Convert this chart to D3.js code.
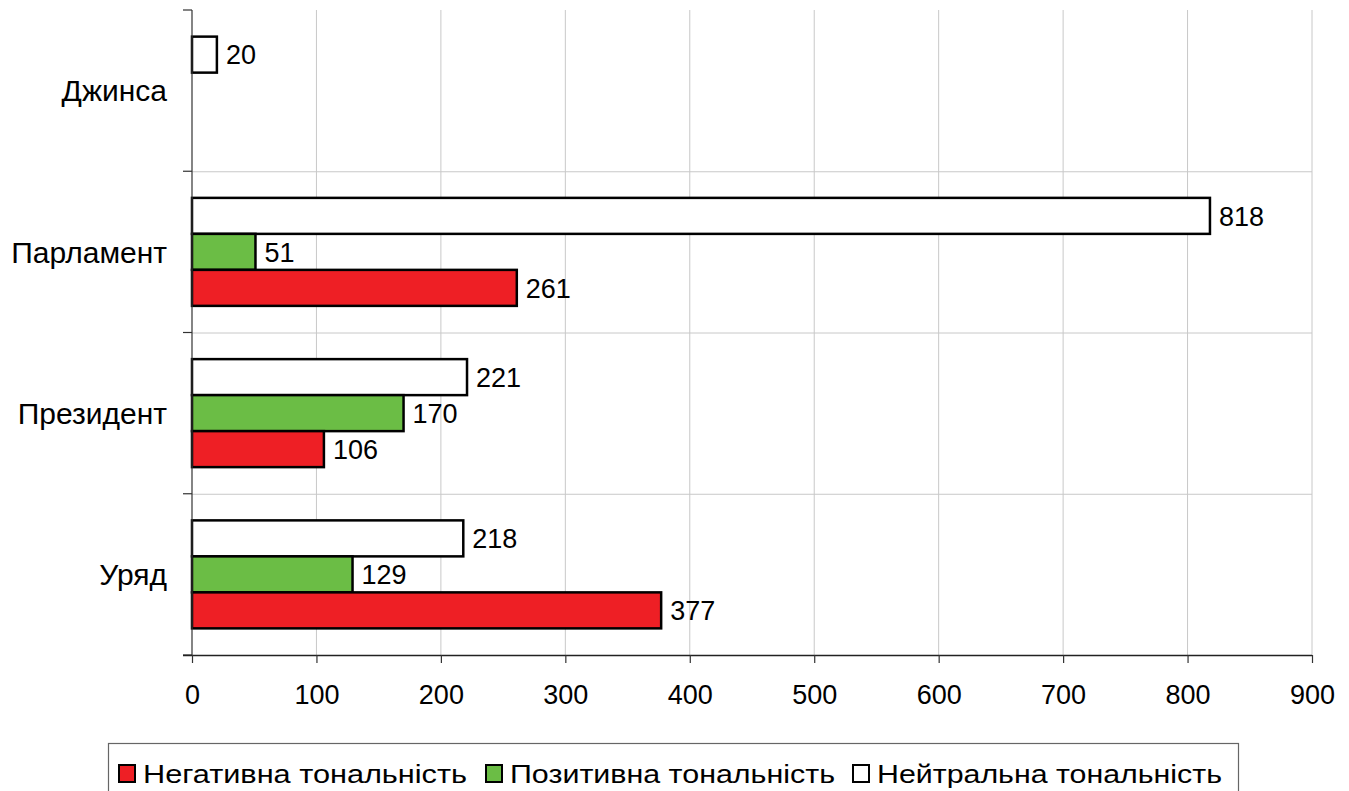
<!DOCTYPE html>
<html>
<head>
<meta charset="utf-8">
<script src="https://cdn.jsdelivr.net/npm/d3@7"></script>
<style>
  html, body { margin: 0; padding: 0; background: #fff; }
  svg { display: block; font-family: "Liberation Sans", Arial, sans-serif; }
</style>
</head>
<body>
<svg id="chart" width="1349" height="791"></svg>
<script>
// Categories (top to bottom) and counts per tone
const categories = ["Джинса", "Парламент", "Президент", "Уряд"];
const negativeValues = [0, 261, 106, 377];
const positiveValues = [0, 51, 170, 129];
const neutralValues = [20, 818, 221, 218];
const xTicks = [0, 100, 200, 300, 400, 500, 600, 700, 800, 900];

const series = [
  { key: "neutral",  name: "Нейтральна тональність", values: neutralValues,  color: "#ffffff" },
  { key: "positive", name: "Позитивна тональність",  values: positiveValues, color: "#6bbd45" },
  { key: "negative", name: "Негативна тональність",  values: negativeValues, color: "#ee1f25" }
];
const legendOrder = ["negative", "positive", "neutral"];

const svg = d3.select("#chart");
const plotLeft = 192, plotRight = 1312, plotTop = 10, plotBottom = 655;
const numSize = 27, catSize = 30;

const x = d3.scaleLinear().domain([0, 900]).range([plotLeft, plotRight]);
const y = d3.scaleBand().domain(categories).range([plotTop, plotBottom]).padding(0);
const groupH = 108;
const yInner = d3.scaleBand()
  .domain(series.map(s => s.key))
  .range([(y.bandwidth() - groupH) / 2, (y.bandwidth() + groupH) / 2])
  .padding(0);

// Gridlines
const grid = svg.append("g");
grid.selectAll("line.v").data(xTicks.filter(t => t > 0)).join("line")
  .attr("x1", d => x(d)).attr("x2", d => x(d))
  .attr("y1", plotTop).attr("y2", plotBottom)
  .attr("stroke", "#c8c8c8").attr("stroke-width", 1);
grid.selectAll("line.h").data(categories.slice(1)).join("line")
  .attr("x1", plotLeft).attr("x2", plotRight)
  .attr("y1", d => y(d) + 0.5).attr("y2", d => y(d) + 0.5)
  .attr("stroke", "#c8c8c8").attr("stroke-width", 1);

// Bars
const groups = svg.append("g").selectAll("g").data(categories).join("g")
  .attr("transform", d => `translate(0,${y(d)})`);

series.forEach(s => {
  groups.each(function(cat, i) {
    const v = s.values[i];
    if (!v) return;
    const g = d3.select(this);
    g.append("rect")
      .attr("x", x(0)).attr("y", yInner(s.key))
      .attr("width", x(v) - x(0)).attr("height", yInner.bandwidth())
      .attr("fill", s.color).attr("stroke", "#000").attr("stroke-width", 2.5);
    g.append("text")
      .attr("x", x(v) + 9).attr("y", yInner(s.key) + yInner.bandwidth() / 2)
      .attr("dy", "0.36em").attr("font-size", numSize).attr("fill", "#000")
      .text(v);
  });
});

// Y axis
const yAxis = svg.append("g");
yAxis.append("line").attr("x1", plotLeft).attr("x2", plotLeft).attr("y1", plotTop).attr("y2", plotBottom)
  .attr("stroke", "#333").attr("stroke-width", 1.2);
yAxis.selectAll("line.t").data(categories.concat(["end"])).join("line")
  .attr("x1", plotLeft - 9).attr("x2", plotLeft)
  .attr("y1", (d, i) => i < categories.length ? y(d) : plotBottom)
  .attr("y2", (d, i) => i < categories.length ? y(d) : plotBottom)
  .attr("stroke", "#333").attr("stroke-width", 1.2);
yAxis.selectAll("text").data(categories).join("text")
  .attr("x", 167).attr("y", d => y(d) + y.bandwidth() / 2)
  .attr("dy", "0.36em").attr("text-anchor", "end").attr("font-size", catSize)
  .text(d => d);

// X axis
const xAxis = svg.append("g").attr("transform", `translate(0,${plotBottom})`)
  .call(d3.axisBottom(x).tickValues(xTicks).tickSize(8).tickPadding(22));
xAxis.select(".domain").attr("stroke", "#222").attr("stroke-width", 1.5)
  .attr("d", `M${plotLeft - 9},0.5H${plotRight}`);
xAxis.selectAll(".tick line").attr("stroke", "#333").attr("stroke-width", 1.2);
xAxis.selectAll(".tick text").attr("font-size", numSize).attr("fill", "#000")
  .attr("font-family", "Liberation Sans, Arial, sans-serif");

// Legend
const legend = svg.append("g");
legend.append("rect").attr("x", 108.5).attr("y", 743.5).attr("width", 1130).attr("height", 60)
  .attr("fill", "#fff").attr("stroke", "#666").attr("stroke-width", 1.2);
const legendX = [119, 486, 853];
const legendW = [324, 325, 345];
legendOrder.forEach((k, i) => {
  const s = series.find(d => d.key === k);
  legend.append("rect").attr("x", legendX[i]).attr("y", 765).attr("width", 16).attr("height", 17)
    .attr("fill", s.color).attr("stroke", "#000").attr("stroke-width", 2);
  legend.append("text").attr("x", legendX[i] + 24).attr("y", 774).attr("dy", "0.36em")
    .attr("font-size", 26)
    .attr("textLength", legendW[i]).attr("lengthAdjust", "spacingAndGlyphs")
    .text(s.name);
});
</script>
</body>
</html>
